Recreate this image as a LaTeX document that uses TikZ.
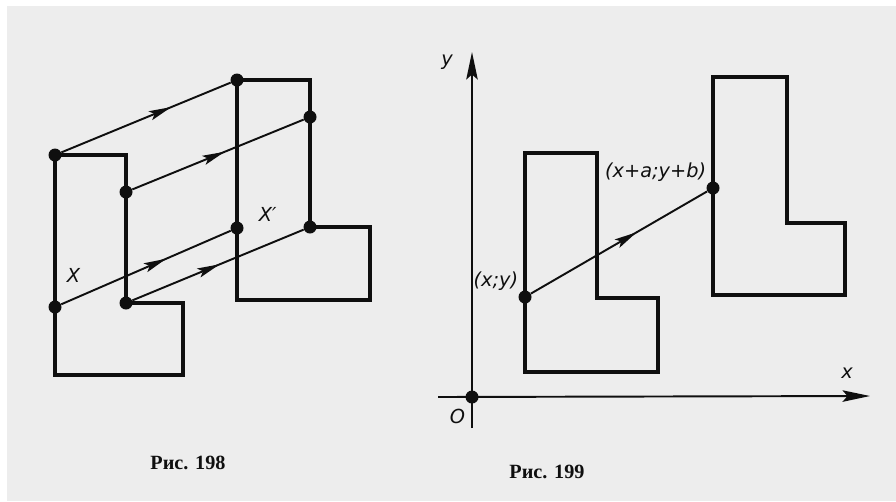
\documentclass[tikz,border=0pt]{standalone}
\usepackage{fontspec}
\usepackage{tikz}
\usetikzlibrary{arrows.meta,positioning,decorations.markings}
\newfontfamily\lblfont{DejaVu Sans}
\newfontfamily\capfont{Liberation Serif}
\definecolor{paper}{RGB}{237,237,237}
\definecolor{ink}{RGB}{15,15,15}
\tikzset{
  outline/.style={draw=ink,line width=2.8pt,line join=miter},
  vec/.style={draw=ink,line width=1.1pt,postaction={decorate},
    decoration={markings,mark=at position #1 with
      {\arrow{Stealth[length=4.5mm,width=1.9mm,inset=0.9mm]}}}},
  axis/.style={draw=ink,line width=1.1pt,-{Stealth[length=5.5mm,width=2.3mm,inset=1mm]}},
  dot/.style={circle,fill=ink,inner sep=0pt,minimum size=2.6mm},
  lbl/.style={font=\lblfont\itshape\fontsize{11}{13}\selectfont,inner sep=1pt,text=ink},
  figcap/.style={font=\capfont\bfseries\fontsize{11.5}{13}\selectfont,text=ink},
}

\begin{document}
\begin{tikzpicture}[x=0.2mm,y=-0.2mm]
\fill[white] (0,0) rectangle (896,501);
\fill[paper] (7,6) rectangle (896,501);
\useasboundingbox (0,0) rectangle (896,501);
% fig 198
\draw[outline] (55,155) -- (126,155) -- (126,303) -- (183,303) -- (183,375) -- (55,375) -- cycle;
\draw[outline] (237,80) -- (310,80) -- (310,227) -- (370,227) -- (370,300) -- (237,300) -- cycle;
\node[dot] (A) at (55,155) {};
\node[dot] (B) at (126,192) {};
\node[dot] (X) at (55,307) {};
\node[dot] (C) at (126,303) {};
\node[dot] (At) at (237,80) {};
\node[dot] (Bt) at (310,117) {};
\node[dot] (Xt) at (237,228) {};
\node[dot] (Ct) at (310,227) {};
\draw[vec=0.65] (A) -- (At);
\draw[vec=0.54] (B) -- (Bt);
\draw[vec=0.62] (X) -- (Xt);
\draw[vec=0.51] (C) -- (Ct);
\node[lbl,above right=3.5mm and 1mm of X] (Xlab) {X};
\node[lbl,above right=0mm and 3mm of Xt] (Xtlab) {X′};
\node[figcap] (cap198) at (188,463) {Рис. 198};
% fig 199
\coordinate (yfoot) at (472,428); \coordinate (ytip) at (472,52);
\coordinate (xfoot) at (438,397); \coordinate (xtip) at (870,396);
\draw[axis] (yfoot) -- (ytip);
\draw[axis] (xfoot) -- (xtip);
\draw[outline] (525,153) -- (597,153) -- (597,298) -- (658,298) -- (658,372) -- (525,372) -- cycle;
\draw[outline] (713,77) -- (787,77) -- (787,223) -- (845,223) -- (845,295) -- (713,295) -- cycle;
\node[dot] (O) at (472,397) {};
\node[dot] (P) at (525,297) {};
\node[dot] (Pt) at (713,188) {};
\draw[vec=0.6] (P) -- (Pt);
\node[lbl,above left=0mm and 0mm of P] (Plab) {(x;y)};
\node[lbl,above left=0mm and 0mm of Pt] (Ptlab) {(x+a;y+b)};
\node[lbl,below left=1mm and 0mm of O] (Olab) {O};
\node[lbl] (ylab) at (447,62) {y};
\node[lbl] (xlab) at (847,373) {x};
\node[figcap] (cap199) at (547,472) {Рис. 199};
\end{tikzpicture}
\end{document}
